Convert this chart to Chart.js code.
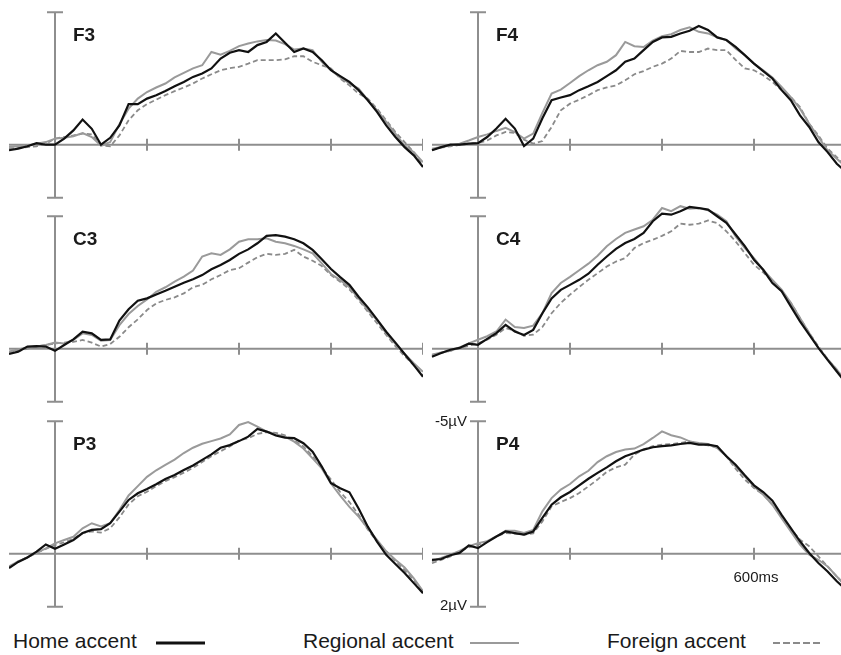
<!DOCTYPE html>
<html>
<head>
<meta charset="utf-8">
<script src="https://cdn.jsdelivr.net/npm/chart.js@4.4.0/dist/chart.umd.min.js"></script>
<style>
  body { margin: 0; width: 841px; height: 655px; overflow: hidden; background: #fff; position: relative;
         font-family: "Liberation Sans", Arial, sans-serif; color: #1a1a1a; }
  canvas { position: absolute; }
  .leg { position: absolute; top: 631px; font-size: 21px; line-height: 20px; white-space: nowrap; }
  svg { position: absolute; }
</style>
</head>
<body>
<canvas id="f3" width="414" height="204" style="left:9px;top:-1.5px"></canvas>
<canvas id="f4" width="426" height="204" style="left:420px;top:-1.5px"></canvas>
<canvas id="c3" width="414" height="204" style="left:9px;top:202.5px"></canvas>
<canvas id="c4" width="426" height="204" style="left:420px;top:202.5px"></canvas>
<canvas id="p3" width="414" height="204" style="left:9px;top:407.5px"></canvas>
<canvas id="p4" width="426" height="204" style="left:420px;top:407.5px"></canvas>

<div class="leg" style="left:13px">Home accent</div>
<svg style="left:150px;top:636px" width="60" height="14"><line x1="6" y1="7" x2="55" y2="7" stroke="#111" stroke-width="3"/></svg>
<div class="leg" style="left:303px">Regional accent</div>
<svg style="left:464px;top:636px" width="60" height="14"><line x1="6" y1="7" x2="55" y2="7" stroke="#9a9a9a" stroke-width="2"/></svg>
<div class="leg" style="left:607px">Foreign accent</div>
<svg style="left:767px;top:636px" width="60" height="14"><line x1="6" y1="7" x2="55" y2="7" stroke="#8a8a8a" stroke-width="2" stroke-dasharray="7,3"/></svg>

<script>
// time points in ms
var times = [-100, -80, -60, -40, -20, 0, 20, 40, 60, 80, 100, 120, 140, 160, 180, 200, 220, 240, 260, 280,
             300, 320, 340, 360, 380, 400, 420, 440, 460, 480, 500, 520, 540, 560, 580, 600, 620, 640, 660, 680,
             700, 720, 740, 760, 780, 800];
var tickTimes = [200, 400, 600, 800];

// amplitudes in microvolts (negative up)
var f3Home = [0.21,0.15,0.06,-0.06,0,0,-0.23,-0.54,-0.95,-0.6,0,-0.26,-0.73,-1.53,-1.53,-1.74,-1.87,-2.03,-2.21,-2.37,-2.56,-2.69,-2.88,-3.25,-3.47,-3.57,-3.5,-3.76,-3.88,-4.2,-3.85,-3.5,-3.63,-3.5,-3.19,-2.81,-2.59,-2.37,-2.06,-1.68,-1.24,-0.73,-0.29,0.09,0.4,0.84];
var f3Regional = [0.09,0.06,0.03,-0.04,-0.1,-0.23,-0.26,-0.32,-0.44,-0.29,0.03,-0.1,-0.77,-1.36,-1.74,-1.99,-2.16,-2.31,-2.54,-2.71,-2.88,-3.0,-3.5,-3.4,-3.54,-3.72,-3.82,-3.9,-3.95,-3.93,-3.8,-3.59,-3.63,-3.57,-3.13,-2.81,-2.54,-2.31,-2.12,-1.68,-1.3,-0.86,-0.42,0.03,0.28,0.66];
var f3Foreign = [0.15,0.11,0.09,0.06,-0.04,-0.23,-0.29,-0.35,-0.42,-0.39,0.03,0.06,-0.35,-0.92,-1.3,-1.53,-1.7,-1.87,-2.02,-2.16,-2.31,-2.5,-2.66,-2.81,-2.89,-2.94,-3.06,-3.19,-3.19,-3.19,-3.22,-3.34,-3.34,-3.13,-3.0,-2.88,-2.5,-2.24,-1.93,-1.74,-1.36,-0.92,-0.48,-0.1,0.28,0.78];

var f4Home = [0.21,0.09,0,0,-0.04,-0.06,-0.29,-0.61,-0.98,-0.61,0.05,-0.23,-1.0,-1.68,-1.78,-1.87,-2.06,-2.21,-2.37,-2.59,-2.81,-3.13,-3.25,-3.57,-3.88,-4.05,-4.07,-4.2,-4.3,-4.48,-4.33,-4.05,-3.95,-3.69,-3.38,-3.06,-2.78,-2.5,-2.06,-1.68,-1.11,-0.67,-0.1,0.28,0.72,1.03];
var f4Regional = [0.15,0.09,0.03,-0.04,-0.16,-0.29,-0.39,-0.52,-0.64,-0.48,-0.23,-0.42,-1.2,-1.93,-2.08,-2.33,-2.59,-2.81,-3.0,-3.13,-3.38,-3.88,-3.72,-3.69,-3.93,-4.1,-4.17,-4.33,-4.43,-4.26,-4.2,-4.05,-3.95,-3.63,-3.38,-3.06,-2.81,-2.54,-2.18,-1.8,-1.36,-0.79,-0.29,0.21,0.53,0.84];
var f4Foreign = [0.19,0.11,0.06,0.01,-0.04,-0.06,-0.16,-0.35,-0.48,-0.45,-0.19,-0.04,-0.14,-0.67,-1.3,-1.55,-1.7,-1.87,-2.06,-2.16,-2.24,-2.43,-2.66,-2.78,-2.94,-3.06,-3.25,-3.54,-3.5,-3.5,-3.63,-3.57,-3.57,-3.2,-2.88,-2.81,-2.62,-2.37,-2.06,-1.8,-1.42,-0.79,-0.35,0.15,0.47,0.84];

var c3Home = [0.2,0.11,-0.08,-0.1,-0.08,0.08,-0.14,-0.35,-0.64,-0.58,-0.33,-0.35,-1.06,-1.49,-1.81,-1.9,-2.05,-2.19,-2.34,-2.49,-2.62,-2.78,-3.0,-3.16,-3.35,-3.58,-3.75,-3.98,-4.26,-4.29,-4.23,-4.13,-3.98,-3.73,-3.38,-3.01,-2.7,-2.41,-1.96,-1.56,-1.11,-0.64,-0.23,0.2,0.62,1.06];
var c3Regional = [0.11,0.03,-0.05,-0.08,-0.14,-0.23,-0.2,-0.33,-0.58,-0.52,-0.3,-0.33,-0.89,-1.31,-1.61,-1.86,-2.15,-2.32,-2.53,-2.72,-2.95,-3.48,-3.6,-3.54,-3.75,-4.04,-4.13,-4.13,-4.17,-4.04,-3.98,-3.88,-3.75,-3.6,-3.22,-2.82,-2.59,-2.32,-1.9,-1.46,-1.08,-0.58,-0.18,0.2,0.55,0.87];
var c3Foreign = [0.15,0.08,0,-0.08,-0.14,-0.2,-0.23,-0.26,-0.33,-0.23,-0.08,-0.18,-0.45,-0.81,-1.11,-1.46,-1.71,-1.84,-1.94,-2.09,-2.32,-2.41,-2.62,-2.78,-2.97,-3.04,-3.25,-3.45,-3.58,-3.54,-3.58,-3.73,-3.48,-3.32,-3.12,-2.78,-2.53,-2.24,-1.84,-1.4,-0.96,-0.52,-0.1,0.28,0.62,1.0];

var c4Home = [0.3,0.16,0.04,-0.03,-0.19,-0.15,-0.37,-0.59,-0.9,-0.65,-0.52,-0.71,-1.34,-1.9,-2.22,-2.41,-2.6,-2.83,-3.17,-3.48,-3.77,-3.99,-4.14,-4.37,-4.81,-5.1,-5.06,-5.19,-5.35,-5.31,-5.25,-5.0,-4.75,-4.31,-3.87,-3.36,-2.98,-2.48,-2.17,-1.6,-1.03,-0.53,-0.03,0.42,0.86,1.3];
var c4Regional = [0.23,0.14,0.08,-0.05,-0.2,-0.34,-0.47,-0.65,-1.1,-0.82,-0.78,-0.87,-1.34,-2.1,-2.48,-2.71,-2.96,-3.21,-3.51,-3.87,-4.14,-4.37,-4.5,-4.62,-4.87,-5.31,-5.19,-5.38,-5.28,-5.31,-5.23,-5.06,-4.81,-4.24,-3.8,-3.42,-2.98,-2.6,-2.23,-1.73,-1.16,-0.59,-0.03,0.39,0.79,1.24];
var c4Foreign = [0.23,0.16,0.08,-0.03,-0.11,-0.21,-0.34,-0.53,-0.78,-0.68,-0.49,-0.53,-0.82,-1.34,-1.73,-2.04,-2.33,-2.6,-2.85,-3.1,-3.29,-3.42,-3.8,-3.99,-4.11,-4.26,-4.43,-4.72,-4.68,-4.72,-4.84,-4.74,-4.43,-4.05,-3.61,-3.17,-2.88,-2.54,-2.17,-1.73,-1.16,-0.59,-0.09,0.39,0.79,1.24];

var p3Home = [0.54,0.31,0.14,-0.08,-0.35,-0.19,-0.35,-0.52,-0.78,-0.9,-0.93,-1.15,-1.59,-2.03,-2.28,-2.44,-2.62,-2.82,-2.97,-3.16,-3.33,-3.54,-3.75,-4.0,-4.1,-4.25,-4.42,-4.71,-4.61,-4.46,-4.38,-4.36,-4.17,-3.85,-3.29,-2.66,-2.47,-2.32,-1.71,-1.02,-0.46,0.04,0.39,0.73,1.11,1.49];
var p3Regional = [0.48,0.29,0.14,-0.03,-0.2,-0.39,-0.52,-0.64,-0.96,-1.15,-1.03,-1.15,-1.65,-2.2,-2.55,-2.9,-3.15,-3.35,-3.55,-3.8,-4.0,-4.15,-4.25,-4.35,-4.5,-4.86,-4.97,-4.8,-4.61,-4.51,-4.42,-4.23,-3.97,-3.6,-3.22,-2.65,-2.19,-1.77,-1.4,-0.96,-0.52,-0.09,0.23,0.52,0.93,1.42];
var p3Foreign = [0.52,0.29,0.14,-0.04,-0.18,-0.33,-0.43,-0.56,-0.78,-0.84,-0.8,-0.96,-1.37,-1.86,-2.17,-2.34,-2.55,-2.74,-2.89,-3.06,-3.24,-3.46,-3.68,-3.87,-4.05,-4.27,-4.36,-4.52,-4.59,-4.56,-4.47,-4.27,-4.05,-3.68,-3.24,-2.8,-2.33,-1.95,-1.47,-0.91,-0.47,-0.09,0.27,0.62,0.99,1.43];

var p4Home = [0.23,0.2,0.06,-0.03,-0.31,-0.21,-0.44,-0.65,-0.84,-0.78,-0.72,-0.84,-1.35,-1.85,-2.13,-2.33,-2.58,-2.83,-3.05,-3.26,-3.49,-3.68,-3.8,-3.93,-4.02,-4.06,-4.09,-4.14,-4.18,-4.12,-4.12,-4.06,-3.68,-3.36,-2.96,-2.58,-2.33,-2.0,-1.47,-0.97,-0.47,-0.03,0.35,0.67,1.04,1.36];
var p4Regional = [0.29,0.16,0.04,-0.11,-0.28,-0.4,-0.47,-0.65,-0.87,-0.87,-0.78,-0.9,-1.6,-2.1,-2.42,-2.63,-2.92,-3.13,-3.46,-3.68,-3.84,-3.93,-3.97,-4.14,-4.37,-4.62,-4.47,-4.39,-4.24,-4.18,-4.14,-3.99,-3.68,-3.29,-2.92,-2.54,-2.23,-1.85,-1.34,-0.84,-0.34,0.04,0.23,0.48,0.86,1.23];
var p4Foreign = [0.36,0.23,0.1,-0.09,-0.24,-0.34,-0.47,-0.65,-0.78,-0.76,-0.72,-0.77,-1.22,-1.79,-1.95,-2.1,-2.29,-2.54,-2.8,-3.09,-3.26,-3.36,-3.74,-3.93,-4.06,-4.12,-4.14,-4.18,-4.24,-4.15,-4.09,-4.01,-3.68,-3.21,-2.8,-2.48,-2.23,-1.85,-1.41,-0.94,-0.53,-0.28,0.1,0.48,0.86,1.23];

var axisGray = '#8e8e8e';

// draws the cross-shaped ERP axes and panel text, using the chart's own scales
var erpAxes = {
  id: 'erpAxes',
  beforeDatasetsDraw: function (chart, args, opts) {
    var ctx = chart.ctx, xs = chart.scales.x, ys = chart.scales.y;
    var x0 = xs.getPixelForValue(0), y0 = ys.getPixelForValue(0);
    var yTop = ys.getPixelForValue(-5), yBot = ys.getPixelForValue(2);
    ctx.save();
    ctx.strokeStyle = axisGray;
    ctx.lineWidth = 2;
    ctx.beginPath();
    ctx.moveTo(chart.chartArea.left, y0);
    ctx.lineTo(xs.getPixelForValue(800) + 1, y0);
    ctx.moveTo(x0, yTop);
    ctx.lineTo(x0, yBot);
    ctx.moveTo(x0 - 8, yTop);
    ctx.lineTo(x0 + 8, yTop);
    ctx.moveTo(x0 - 8, yBot);
    ctx.lineTo(x0 + 8, yBot);
    tickTimes.forEach(function (t) {
      var px = xs.getPixelForValue(t);
      ctx.moveTo(px, y0 - 6);
      ctx.lineTo(px, y0 + 6);
    });
    ctx.stroke();
    ctx.restore();
  },
  afterDatasetsDraw: function (chart, args, opts) {
    var ctx = chart.ctx, xs = chart.scales.x, ys = chart.scales.y;
    var x0 = xs.getPixelForValue(0), y0 = ys.getPixelForValue(0);
    var yTop = ys.getPixelForValue(-5), yBot = ys.getPixelForValue(2);
    ctx.save();
    ctx.fillStyle = '#1a1a1a';
    ctx.font = 'bold 19px "Liberation Sans", Arial, sans-serif';
    ctx.textAlign = 'left';
    ctx.textBaseline = 'alphabetic';
    ctx.fillText(opts.label, x0 + 18, yTop + 29);
    if (opts.units) {
      ctx.font = '15px "Liberation Sans", Arial, sans-serif';
      ctx.textBaseline = 'middle';
      ctx.textAlign = 'right';
      ctx.fillText('-5\u00b5V', x0 - 11, yTop + 1);
      ctx.fillText('2\u00b5V', x0 - 11, yBot - 1);
      ctx.textAlign = 'center';
      ctx.fillText('600ms', xs.getPixelForValue(600) + 2, y0 + 24);
    }
    ctx.restore();
  }
};

function series(vals) {
  return times.map(function (t, i) { return { x: t, y: vals[i] }; });
}

function makePanel(id, label, padLeft, home, regional, foreign, units) {
  return new Chart(document.getElementById(id), {
    type: 'line',
    data: {
      datasets: [
        { label: 'Home accent', data: series(home), borderColor: '#111111', borderWidth: 2.2 },
        { label: 'Regional accent', data: series(regional), borderColor: '#9a9a9a', borderWidth: 2 },
        { label: 'Foreign accent', data: series(foreign), borderColor: '#8a8a8a', borderWidth: 1.8, borderDash: [5, 3] }
      ]
    },
    options: {
      responsive: false,
      animation: false,
      devicePixelRatio: 1,
      layout: { padding: { left: padLeft, right: 0, top: 0, bottom: 0 } },
      elements: { point: { radius: 0 }, line: { tension: 0, fill: false } },
      datasets: { line: { clip: false } },
      scales: {
        x: { type: 'linear', min: -100, max: 800, display: false },
        y: { type: 'linear', min: -5.5, max: 2.2, reverse: true, display: false }
      },
      plugins: {
        legend: { display: false },
        tooltip: { enabled: false },
        erpAxes: { label: label, units: units }
      }
    },
    plugins: [erpAxes]
  });
}

makePanel('f3', 'F3', 0, f3Home, f3Regional, f3Foreign, false);
makePanel('f4', 'F4', 12, f4Home, f4Regional, f4Foreign, false);
makePanel('c3', 'C3', 0, c3Home, c3Regional, c3Foreign, false);
makePanel('c4', 'C4', 12, c4Home, c4Regional, c4Foreign, false);
makePanel('p3', 'P3', 0, p3Home, p3Regional, p3Foreign, false);
makePanel('p4', 'P4', 12, p4Home, p4Regional, p4Foreign, true);
</script>
</body>
</html>
